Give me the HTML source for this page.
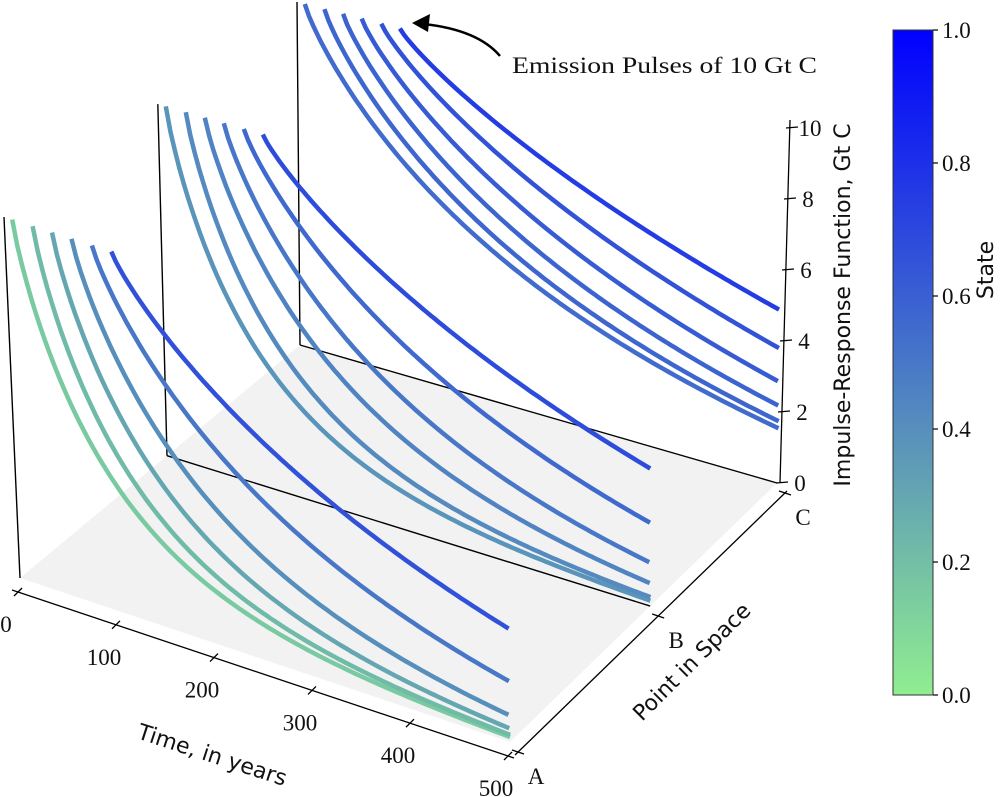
<!DOCTYPE html>
<html><head><meta charset="utf-8">
<style>
html,body{margin:0;padding:0;background:#fff;}
svg{display:block;}
.num{font-family:"Liberation Serif",serif;font-size:23px;fill:#111;}
.lab{font-family:"DejaVu Sans","Liberation Sans",sans-serif;font-size:22px;fill:#111;}
</style></head>
<body>
<svg id="chart" width="1000" height="797" viewBox="0 0 1000 797" xmlns="http://www.w3.org/2000/svg">
<defs>
<linearGradient id="cmap" x1="0" y1="1" x2="0" y2="0">
<stop offset="0" stop-color="rgb(144,238,144)"/>
<stop offset="1" stop-color="rgb(0,0,255)"/>
</linearGradient>
</defs>
<g id="floor-layer"></g>
<g id="panels"></g>
<g id="axes"></g>
<g>
<text class="num" x="512" y="73" textLength="305" lengthAdjust="spacingAndGlyphs">Emission Pulses of 10 Gt C</text>
<path d="M500,56 Q478,30 424,24" fill="none" stroke="#000" stroke-width="2.5"/>
<polygon points="412,23 430,14 428,32" fill="#000"/>
</g>
<g>
<rect x="893" y="30" width="40" height="665" fill="url(#cmap)" stroke="#333" stroke-width="1"/>
<g id="cbticks"></g>
<text class="lab" transform="translate(993,270) rotate(-90)" text-anchor="middle">State</text>
</g>
</svg>
<script>
// ---- data ----
const panelNames = ["A","B","C"];
const pulseTimes = [8, 28, 47, 66, 86, 105];
const endValuesA = [0.14, 0.2, 0.37, 0.73, 1.66, 3.1];
const endValuesB = [0.15, 0.25, 0.63, 1.2, 2.3, 3.8];
const endValuesC = [1.54, 1.74, 2.17, 2.84, 3.77, 4.84];
const statesA = [0.15, 0.22, 0.3, 0.4, 0.5, 0.66];
const statesB = [0.38, 0.42, 0.45, 0.5, 0.56, 0.68];
const statesC = [0.55, 0.57, 0.58, 0.62, 0.65, 0.75];
const pulseSize = 10;
const shapeExp = 0.85;
const timeTicks = [0,100,200,300,400,500];
const zTicks = [0,2,4,6,8,10];
const cbTicks = [0.0,0.2,0.4,0.6,0.8,1.0];

// ---- projection (axis functions) ----
const F00=[20,578],T00=[4,217],F10=[510,742],T10=[515,382],F01=[300,345],T01=[297,2],F11=[777,483],T11=[787,128];
const sAnchor=[0,0.525,1];
function sMap(s){const i=Math.min(Math.floor(s),1);return sAnchor[i]+(sAnchor[i+1]-sAnchor[i])*(s-i);}
function bl(a,b,c,d,u,f){return [ (a[0]*(1-u)+b[0]*u)*(1-f)+(c[0]*(1-u)+d[0]*u)*f, (a[1]*(1-u)+b[1]*u)*(1-f)+(c[1]*(1-u)+d[1]*u)*f ];}
function P(t,s,z){const u=t/500,f=sMap(s);const fl=bl(F00,F10,F01,F11,u,f),tp=bl(T00,T10,T01,T11,u,f);const k=z/10;return [fl[0]+(tp[0]-fl[0])*k, fl[1]+(tp[1]-fl[1])*k];}
function cmap(v){return `rgb(${Math.round(144*(1-v))},${Math.round(238*(1-v))},${Math.round(144+(255-144)*v)})`;}
const NS="http://www.w3.org/2000/svg";
function mk(tag,attrs,parent){const e=document.createElementNS(NS,tag);for(const k in attrs)e.setAttribute(k,attrs[k]);parent.appendChild(e);return e;}

// floor
const floorG=document.getElementById('floor-layer');
const fp=[P(0,0,0),P(500,0,0),P(500,2,0),P(0,2,0)];
const floor=mk('polygon',{points:fp.map(p=>p.join(',')).join(' '),fill:'#f2f2f2'},floorG);



// panels
const panelsG=document.getElementById('panels');
const endSets=[endValuesA,endValuesB,endValuesC];
const stateSets=[statesA,statesB,statesC];
for(let s=2;s>=0;s--){
  const g=mk('g',{},panelsG);
  
  
  const v0=P(0,s,0),v1=P(0,s,10);
  const vl=mk('line',{x1:v0[0],y1:v0[1],x2:v1[0],y2:v1[1],stroke:'#000','stroke-width':1.4},g);
  
  
  if(s>0){
    const e=P(500,s,0);
    const hl=mk('line',{x1:v0[0],y1:v0[1],x2:e[0],y2:e[1],stroke:'#000','stroke-width':1.4},g);
    
    
  }
  for(let i=0;i<pulseTimes.length;i++){
    const t0=pulseTimes[i],dtE=500-t0;
    const k=Math.log(pulseSize/endSets[s][i])/Math.pow(dtE,shapeExp);
    const pts=[];
    for(let t=t0;t<=500.01;t+=4){const z=pulseSize*Math.exp(-k*Math.pow(t-t0,shapeExp));pts.push(P(t,s,z));}
    const pl=mk('polyline',{points:pts.map(p=>p[0].toFixed(1)+','+p[1].toFixed(1)).join(' '),fill:'none',stroke:cmap(stateSets[s][i]),'stroke-width':4.5},g);
    
    
  }
}

// axes
const ax=document.getElementById('axes');
const to=[-2,14];
let a0=P(0,0,0),a1=P(500,0,0);
const tl=mk('line',{x1:a0[0]+to[0]-6,y1:a0[1]+to[1]-2,x2:a1[0]+to[0]+6,y2:a1[1]+to[1]+2,stroke:'#000','stroke-width':1.3},ax);


timeTicks.forEach(t=>{
  const p=P(t,0,0);const x=p[0]+to[0],y=p[1]+to[1];
  const tk=mk('line',{x1:x-4,y1:y+4,x2:x+4,y2:y-4,stroke:'#000','stroke-width':1.3},ax);
  
  
  const tx=mk('text',{x:x-12,y:y+40,'text-anchor':'middle',class:'num'},ax);
  tx.textContent=t;
  
  
});
const tt=mk('text',{transform:'translate(210,762) rotate(18)','text-anchor':'middle',class:'lab','font-size':'24'},ax);
tt.textContent='Time, in years';


const so=[8,10];
a0=P(500,0,0);a1=P(500,2,0);
const sl=mk('line',{x1:a0[0]+so[0]-3,y1:a0[1]+so[1]+3,x2:a1[0]+so[0]+2,y2:a1[1]+so[1]-2,stroke:'#000','stroke-width':1.3},ax);


[0,1,2].forEach(s=>{
  const p=P(500,s,0);const x=p[0]+so[0],y=p[1]+so[1];
  const tk=mk('line',{x1:x-6,y1:y-2,x2:x+6,y2:y+2,stroke:'#000','stroke-width':1.3},ax);
  
  
  const tx=mk('text',{x:x+18,y:y+32,'text-anchor':'middle',class:'num'},ax);
  tx.textContent=panelNames[s];
  
  
});
const st=mk('text',{transform:'translate(697,667) rotate(-45)','text-anchor':'middle',class:'lab','font-size':'24'},ax);
st.textContent='Point in Space';


const zo=[3,0];
a0=P(500,2,0);a1=P(500,2,10);
const zl=mk('line',{x1:a0[0]+zo[0],y1:a0[1],x2:a1[0]+zo[0],y2:a1[1]-8,stroke:'#000','stroke-width':1.3},ax);


zTicks.forEach(z=>{
  const p=P(500,2,z);const x=p[0]+zo[0],y=p[1];
  const tk=mk('line',{x1:x-4,y1:y,x2:x+8,y2:y-1,stroke:'#000','stroke-width':1.3},ax);
  
  
  const tx=mk('text',{x:x+20,y:y+8,'text-anchor':'middle',class:'num'},ax);
  tx.textContent=z;
  
  
});
const zt=mk('text',{transform:'translate(850,305) rotate(-90)','text-anchor':'middle',class:'lab','font-size':'23'},ax);
zt.textContent='Impulse-Response Function, Gt C';


const cb=document.getElementById('cbticks');
cbTicks.forEach(v=>{
  const y=695-v*665;
  const tk=mk('line',{x1:933,y1:y,x2:938,y2:y,stroke:'#000','stroke-width':1.2},cb);
  
  
  const tx=mk('text',{x:942,y:y+8,class:'num'},cb);
  tx.textContent=v.toFixed(1);
  
  
});
</script>
</body></html>
